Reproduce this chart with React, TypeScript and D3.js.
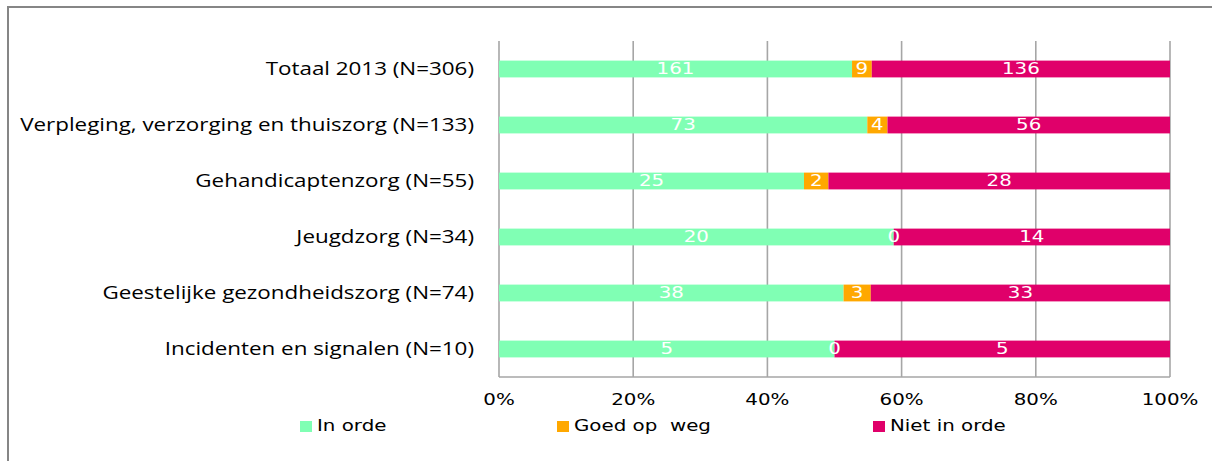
import React from 'react';
import * as d3 from 'd3';

const categories = [
  'Totaal 2013 (N=306)',
  'Verpleging, verzorging en thuiszorg (N=133)',
  'Gehandicaptenzorg (N=55)',
  'Jeugdzorg (N=34)',
  'Geestelijke gezondheidszorg  (N=74)',
  'Incidenten en signalen (N=10)',
];
const inOrde = [161, 73, 25, 20, 38, 5];
const goedOpWeg = [9, 4, 2, 0, 3, 0];
const nietInOrde = [136, 56, 28, 14, 33, 5];
const seriesNames = ['In orde', 'Goed op  weg', 'Niet in orde'];
const seriesColors = ['#80FFB4', '#FFA800', '#E0006A'];
const tickValues = [0, 0.2, 0.4, 0.6, 0.8, 1];

const W = 1212;
const H = 461;
const margin = {top: 41, right: 42, bottom: 84, left: 499};
const sx = 1.28; // the picture is stretched horizontally

const verdana = '"DejaVu Sans", Verdana, sans-serif';
const calibri = '"Open Sans", Calibri, sans-serif';

function SText({x, y, anchor, size, family, fill, pre, children}: any) {
  return (
    <text
      transform={`translate(${x},${y}) scale(${sx},1)`}
      textAnchor={anchor}
      fontSize={size}
      fontFamily={family}
      fill={fill}
      dy="0.35em"
      style={pre ? {whiteSpace: 'pre'} : undefined}
    >
      {children}
    </text>
  );
}

export default function App() {
  const rows = categories.map((name, i) => ({
    name,
    values: [inOrde[i], goedOpWeg[i], nietInOrde[i]],
  }));
  const stack = d3
    .stack<any>()
    .keys(['0', '1', '2'])
    .value((d, k) => d.values[+k])
    .offset(d3.stackOffsetExpand);
  const series = stack(rows);

  const x = d3.scaleLinear().domain([0, 1]).range([margin.left, W - margin.right]);
  const y = d3
    .scaleBand()
    .domain(categories)
    .range([margin.top, H - margin.bottom])
    .paddingInner(0.7)
    .paddingOuter(0.35);
  const bh = y.bandwidth();
  const yBottom = H - margin.bottom;

  const legendX = [300, 557, 873];

  return (
    <svg
      width={W}
      height={H}
      style={{position: 'absolute', left: 0, top: 0, background: '#fff'}}
    >
      <rect x={8} y={7} width={W + 20} height={H + 20} fill="#fff" stroke="#868686" strokeWidth={2} />

      {tickValues.map(t => (
        <line
          key={t}
          x1={x(t)}
          x2={x(t)}
          y1={margin.top}
          y2={yBottom}
          stroke="#A6A6A6"
          strokeWidth={1.6}
        />
      ))}
      <line x1={x(0)} x2={x(1)} y1={yBottom} y2={yBottom} stroke="#A6A6A6" strokeWidth={1.6} />

      {series.map((s, si) => (
        <g key={si} fill={seriesColors[si]}>
          {s.map((d, i) => (
            <rect
              key={i}
              x={x(d[0])}
              y={y(categories[i])}
              width={x(d[1]) - x(d[0])}
              height={bh}
            />
          ))}
        </g>
      ))}

      {series.map((s, si) =>
        s.map((d, i) => (
          <SText
            key={`${si}-${i}`}
            x={(x(d[0]) + x(d[1])) / 2}
            y={(y(categories[i]) as number) + bh / 2}
            anchor="middle"
            size={15.5}
            family={verdana}
            fill="#fff"
          >
            {rows[i].values[si]}
          </SText>
        )),
      )}

      {categories.map(c => (
        <SText
          key={c}
          x={474}
          y={(y(c) as number) + bh / 2}
          anchor="end"
          size={17.5}
          family={calibri}
          fill="#000"
        >
          {c}
        </SText>
      ))}

      {tickValues.map(t => (
        <SText
          key={t}
          x={x(t)}
          y={400}
          anchor="middle"
          size={15.5}
          family={verdana}
          fill="#000"
        >
          {d3.format('.0%')(t)}
        </SText>
      ))}

      {seriesNames.map((n, i) => (
        <g key={n}>
          <rect x={legendX[i]} y={421} width={12} height={11} fill={seriesColors[i]} />
          <SText
            x={legendX[i] + 17}
            y={426}
            anchor="start"
            size={15.5}
            family={verdana}
            fill="#000"
            pre
          >
            {n}
          </SText>
        </g>
      ))}
    </svg>
  );
}
